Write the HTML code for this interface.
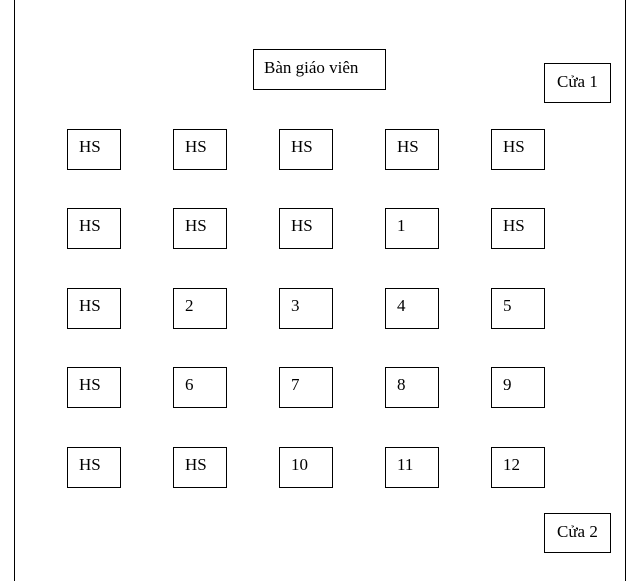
<!DOCTYPE html>
<html><head><meta charset="utf-8"><style>
body{margin:0;width:642px;height:581px;background:#fff;position:relative;overflow:hidden;font-family:"Liberation Serif",serif;font-size:17px;color:#000}
.l{position:absolute;top:0;height:581px;width:1px;background:#000}
.b{position:absolute;box-sizing:border-box;border:1px solid #000;width:54px;height:41px;padding:7px 0 0 11px;line-height:19px}
</style></head><body>
<div class="l" style="left:14px"></div>
<div class="l" style="left:625px"></div>
<div class="b" style="left:253px;top:49px;width:133px;padding-left:10px;padding-top:8px">Bàn giáo viên</div>
<div class="b" style="left:544px;top:63px;width:67px;height:40px;padding-left:12px;padding-top:8px">Cửa 1</div>
<div class="b" style="left:544px;top:513px;width:67px;height:40px;padding-left:12px;padding-top:8px">Cửa 2</div>

<div class="b" style="left:67px;top:129px">HS</div>
<div class="b" style="left:173px;top:129px">HS</div>
<div class="b" style="left:279px;top:129px">HS</div>
<div class="b" style="left:385px;top:129px">HS</div>
<div class="b" style="left:491px;top:129px">HS</div>

<div class="b" style="left:67px;top:208px">HS</div>
<div class="b" style="left:173px;top:208px">HS</div>
<div class="b" style="left:279px;top:208px">HS</div>
<div class="b" style="left:385px;top:208px">1</div>
<div class="b" style="left:491px;top:208px">HS</div>

<div class="b" style="left:67px;top:288px">HS</div>
<div class="b" style="left:173px;top:288px">2</div>
<div class="b" style="left:279px;top:288px">3</div>
<div class="b" style="left:385px;top:288px">4</div>
<div class="b" style="left:491px;top:288px">5</div>

<div class="b" style="left:67px;top:367px">HS</div>
<div class="b" style="left:173px;top:367px">6</div>
<div class="b" style="left:279px;top:367px">7</div>
<div class="b" style="left:385px;top:367px">8</div>
<div class="b" style="left:491px;top:367px">9</div>

<div class="b" style="left:67px;top:447px">HS</div>
<div class="b" style="left:173px;top:447px">HS</div>
<div class="b" style="left:279px;top:447px">10</div>
<div class="b" style="left:385px;top:447px">11</div>
<div class="b" style="left:491px;top:447px">12</div>
</body></html>
